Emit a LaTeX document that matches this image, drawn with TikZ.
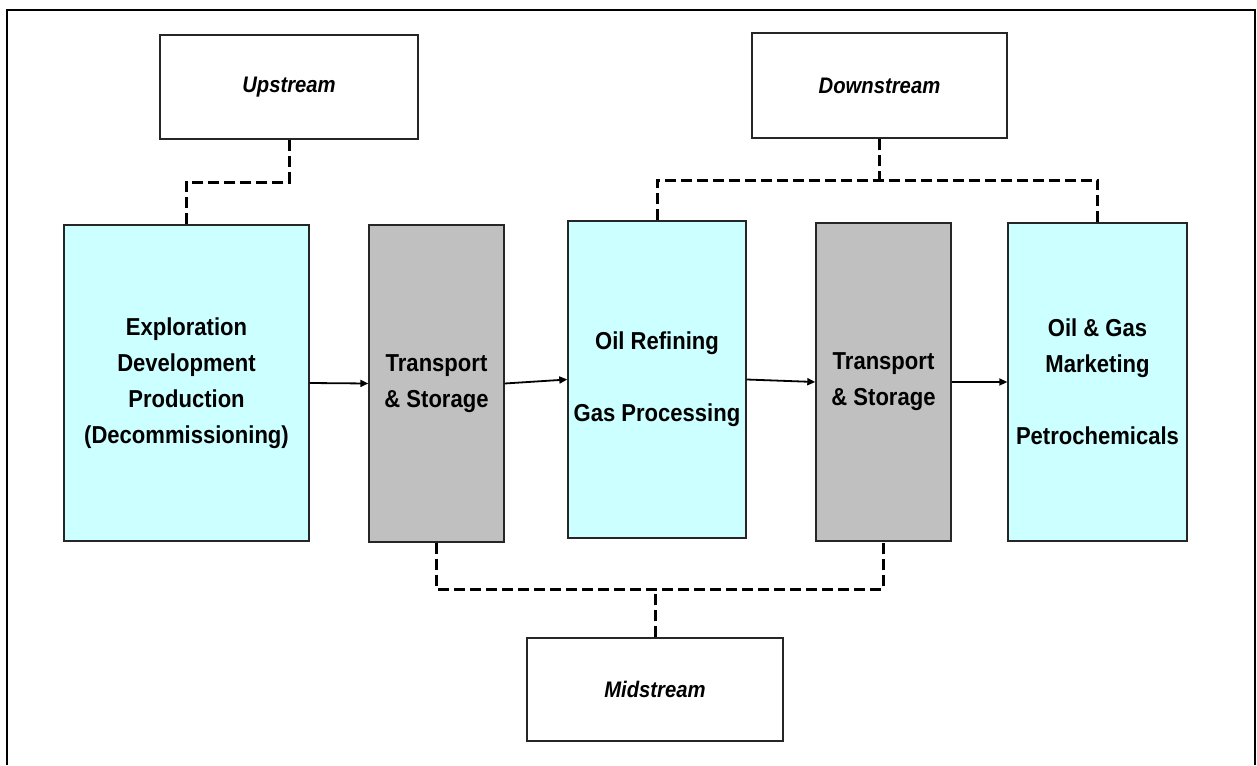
\documentclass[tikz,border=0pt]{standalone}
\usepackage{fontspec}
\setmainfont{Liberation Sans}[FakeStretch=0.9]
\usetikzlibrary{arrows.meta}
\definecolor{lcyan}{RGB}{204,255,255}
\definecolor{lgray}{RGB}{192,192,192}
\begin{document}
\begin{tikzpicture}[x=1pt,y=-1pt,
  box/.style={draw=black!85, line width=1.4pt, rectangle, inner sep=0pt, align=center,
    font=\fontsize{24.5}{36}\selectfont\bfseries},
  stagebox/.style={draw=black!85, line width=1.4pt, rectangle, inner sep=0pt, fill=white,
    font=\fontsize{22.5}{30}\selectfont\bfseries\itshape},
  cyanbox/.style={box, fill=lcyan},
  graybox/.style={box, fill=lgray},
  dashline/.style={line width=3pt, dash pattern=on 11pt off 5pt},
  arr/.style={line width=1.8pt, -{Triangle[length=8pt,width=7pt]}}]
\useasboundingbox (0,0) rectangle (1257,765);
\draw[line width=2pt] (7,765) -- (7,10) -- (1255,10) -- (1255,765);
% stage boxes
\node[stagebox, minimum width=258pt, minimum height=104pt] (up) at (289,87) {Upstream};
\node[stagebox, minimum width=255pt, minimum height=105pt] (down) at (879.5,85.5) {Downstream};
\node[stagebox, minimum width=256pt, minimum height=103pt] (mid) at (655,689.5) {Midstream};
% process boxes
\node[cyanbox, minimum width=245pt, minimum height=316pt] (expl) at (186.5,383)
  {Exploration\\Development\\Production\\(Decommissioning)};
\node[graybox, minimum width=135pt, minimum height=317pt] (ts1) at (436.5,383.5)
  {Transport\\\& Storage};
\node[cyanbox, minimum width=178pt, minimum height=317pt] (ref) at (657,379.5)
  {Oil Refining\\[36pt]Gas Processing};
\node[graybox, minimum width=135pt, minimum height=318pt] (ts2) at (883.5,382)
  {Transport\\\& Storage};
\node[cyanbox, minimum width=179pt, minimum height=318pt] (mkt) at (1097.5,382)
  {Oil \& Gas\\Marketing\\[36pt]Petrochemicals};
% flow arrows
\draw[arr] (expl.east) -- (ts1.west);
\draw[arr] (ts1.east) -- (ref.west);
\draw[arr] (ref.east) -- (ts2.west);
\draw[arr] (ts2.east) -- (mkt.west);
% dashed connectors
\coordinate (uj) at (0,182);
\coordinate (dj) at (0,180);
\coordinate (mj) at (0,589);
\draw[dashline] (up.south) -- (up.south |- uj) -| (expl.north);
\draw[dashline] (down.south) -- (down.south |- dj);
\draw[dashline] (ref.north) |- (mkt.north |- dj) -- (mkt.north);
\draw[dashline] (mid.north) -- (mid.north |- mj);
\draw[dashline] (ts1.south) |- (ts2.south |- mj) -- (ts2.south);
\end{tikzpicture}
\end{document}
